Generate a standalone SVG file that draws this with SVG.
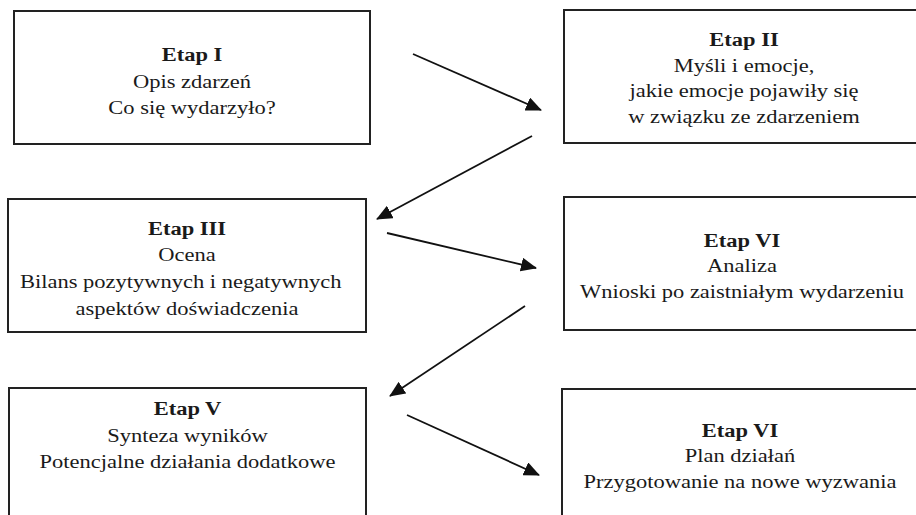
<svg xmlns="http://www.w3.org/2000/svg" width="916" height="515" viewBox="0 0 916 515">
<style>
.box{fill:#fff;stroke:#222;stroke-width:2}
.t{font-family:"Liberation Serif","Times New Roman",serif;font-size:18px;fill:#1a1a1a;text-anchor:middle}
.b{font-weight:bold}
.c{stroke:#111;stroke-width:1.8;fill:none;marker-end:url(#ah)}
</style>
<defs>
<marker id="ah" markerUnits="userSpaceOnUse" markerWidth="16" markerHeight="14" viewBox="0 0 16 14" refX="15" refY="7" orient="auto">
<path d="M0,0 L16,7 L0,14 Z" fill="#111"/>
</marker>
</defs>
<rect width="916" height="515" fill="#fff"/>
<g id="n1">
<rect class="box" x="14" y="11" width="356" height="133"/>
<text class="t" transform="translate(192 0) scale(1.25 1)"><tspan class="b" x="0" y="61">Etap I</tspan><tspan x="0" y="88">Opis zdarzeń</tspan><tspan x="0" y="114">Co się wydarzyło?</tspan></text>
</g>
<g id="n2">
<rect class="box" x="564" y="10" width="360" height="133"/>
<text class="t" transform="translate(744 0) scale(1.25 1)"><tspan class="b" x="0" y="46">Etap II</tspan><tspan x="0" y="72">Myśli i emocje,</tspan><tspan x="0" y="97">jakie emocje pojawiły się</tspan><tspan x="0" y="123">w związku ze zdarzeniem</tspan></text>
</g>
<g id="n3">
<rect class="box" x="8" y="199" width="358" height="133"/>
<text class="t" transform="translate(187 0) scale(1.25 1)"><tspan class="b" x="0" y="235">Etap III</tspan><tspan x="0" y="261">Ocena</tspan><tspan x="-5" y="288">Bilans pozytywnych i negatywnych</tspan><tspan x="0" y="315">aspektów doświadczenia</tspan></text>
</g>
<g id="n4">
<rect class="box" x="564" y="197" width="360" height="133"/>
<text class="t" transform="translate(742 0) scale(1.25 1)"><tspan class="b" x="0" y="247">Etap VI</tspan><tspan x="0" y="272">Analiza</tspan><tspan x="0" y="298">Wnioski po zaistniałym wydarzeniu</tspan></text>
</g>
<g id="n5">
<rect class="box" x="9" y="388" width="357" height="140"/>
<text class="t" transform="translate(187.5 0) scale(1.25 1)"><tspan class="b" x="0" y="415">Etap V</tspan><tspan x="0" y="442">Synteza wyników</tspan><tspan x="0" y="468">Potencjalne działania dodatkowe</tspan></text>
</g>
<g id="n6">
<rect class="box" x="562" y="389" width="362" height="140"/>
<text class="t" transform="translate(740 0) scale(1.25 1)"><tspan class="b" x="0" y="437">Etap VI</tspan><tspan x="0" y="462">Plan działań</tspan><tspan x="0" y="488">Przygotowanie na nowe wyzwania</tspan></text>
</g>
<g id="connectors">
<line class="c" x1="413" y1="54" x2="541" y2="110"/>
<line class="c" x1="532" y1="136" x2="377" y2="219"/>
<line class="c" x1="387" y1="233" x2="536" y2="268"/>
<line class="c" x1="525" y1="306" x2="390" y2="396"/>
<line class="c" x1="407" y1="415" x2="539" y2="475"/>
</g>
</svg>
